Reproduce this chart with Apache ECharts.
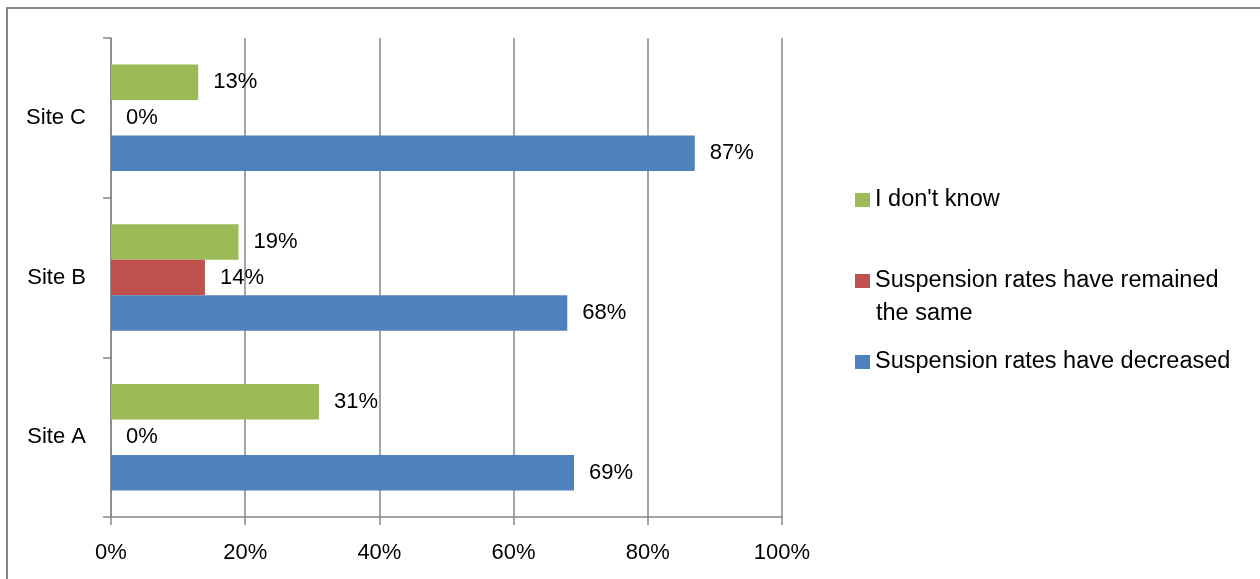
<!DOCTYPE html>
<html>
<head>
<meta charset="utf-8">
<script src="https://cdn.jsdelivr.net/npm/echarts@6/dist/echarts.min.js"></script>
<style>
html,body{margin:0;padding:0;background:#fff;}
#chart{width:1260px;height:579px;}
</style>
</head>
<body>
<div id="chart"></div>
<script>
const categories = ['Site A', 'Site B', 'Site C'];
const decreased = [69, 68, 87];
const remained = [0, 14, 0];
const dontKnow = [31, 19, 13];
const xTicks = [0, 20, 40, 60, 80, 100];
const seriesNames = ['Suspension rates have decreased', 'Suspension rates have remained', "I don't know"];
const secondLine = 'the same';

const FONT = 'Liberation Sans';
const FS = 22;
const LFS = 23.5;
const gray = '#868686';

const chart = echarts.init(document.getElementById('chart'));
const labelCfg = {
  show: true, position: 'right', distance: 15,
  color: '#000', fontFamily: FONT, fontSize: FS,
  formatter: p => p.value + '%'
};
function mk(name, data, color) {
  return {
    name: name, type: 'bar', data: data,
    barGap: '0%', barCategoryGap: '33.3%',
    itemStyle: { color: color },
    label: labelCfg
  };
}
const legendBase = {
  orient: 'vertical', left: 855, padding: 0, itemWidth: 15, itemHeight: 14,
  icon: 'rect',
  textStyle: { color: '#000', fontFamily: FONT, fontSize: LFS, lineHeight: 26 }
};
chart.setOption({
  animation: false,
  textStyle: { fontFamily: FONT },
  grid: { left: 111, right: 478, top: 38, bottom: 62, containLabel: false },
  xAxis: {
    type: 'value', min: xTicks[0], max: xTicks[xTicks.length - 1], interval: 20,
    axisLine: { show: true, lineStyle: { color: gray, width: 1.5 } },
    axisTick: { show: true, length: 8, lineStyle: { color: gray, width: 1.5 } },
    axisLabel: { color: '#000', fontFamily: FONT, fontSize: FS, margin: 25, formatter: v => v + '%' },
    splitLine: { show: true, lineStyle: { color: gray, width: 1.5 } }
  },
  yAxis: {
    type: 'category', data: categories,
    axisLine: { show: true, lineStyle: { color: gray, width: 1.5 } },
    axisTick: { show: true, length: 8, lineStyle: { color: gray, width: 1.5 } },
    axisLabel: { color: '#000', fontFamily: FONT, fontSize: FS, margin: 25 },
    splitLine: { show: false }
  },
  legend: [
    Object.assign({}, legendBase, { top: 187, data: [seriesNames[2]] }),
    Object.assign({}, legendBase, { top: 268, data: [seriesNames[1]] }),
    Object.assign({}, legendBase, { top: 349, data: [seriesNames[0]] })
  ],
  graphic: [
    { type: 'rect', shape: { x: 7, y: 8, width: 1400, height: 700 },
      style: { fill: 'none', stroke: gray, lineWidth: 2 }, silent: true, z: -10 },
    { type: 'text', left: 876, top: 302,
      style: { text: secondLine, fill: '#000', fontFamily: FONT, fontSize: LFS } }
  ],
  series: [
    mk(seriesNames[2], dontKnow, '#9BBB59'),
    mk(seriesNames[1], remained, '#C0504D'),
    mk(seriesNames[0], decreased, '#4F81BD')
  ]
});
</script>
</body>
</html>
